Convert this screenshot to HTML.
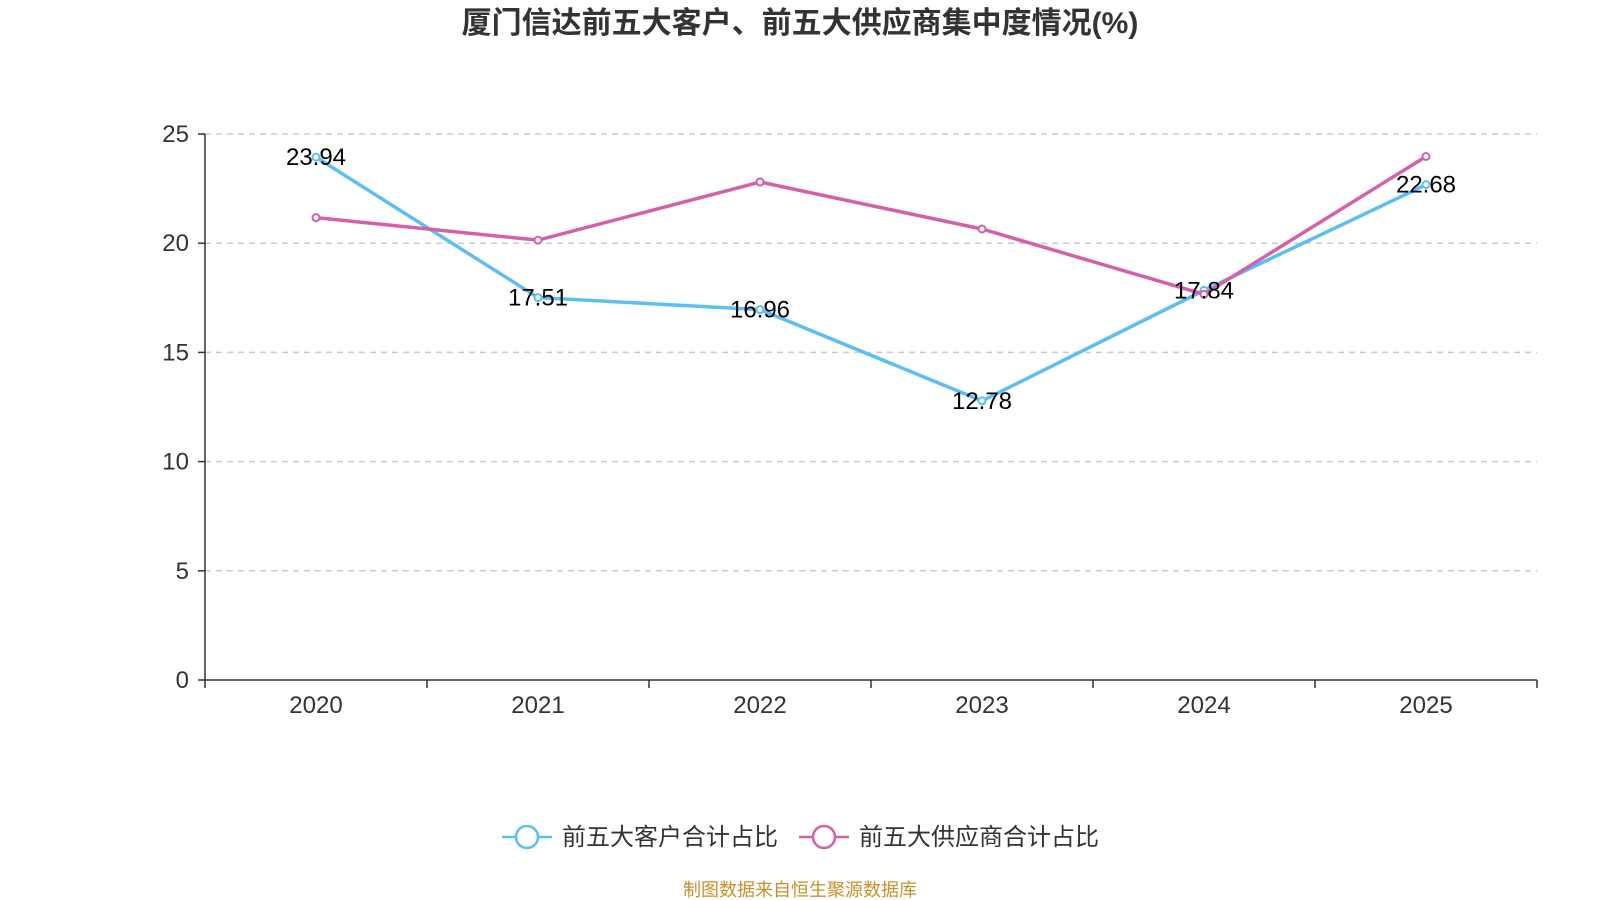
<!DOCTYPE html>
<html><head><meta charset="utf-8"><style>
body{margin:0;background:#fff;}
svg{display:block;font-family:"Liberation Sans","Noto Sans CJK SC",sans-serif;}
</style></head><body>
<svg id="c" width="1600" height="900" xmlns="http://www.w3.org/2000/svg">
<text x="800" y="33" text-anchor="middle" font-size="30" font-weight="bold" fill="#333">厦门信达前五大客户、前五大供应商集中度情况(%)</text>
<g id="grid"></g><g id="axes"></g><g id="series"></g>
<g>
<g>
<line x1="502" y1="837" x2="552" y2="837" stroke="#5bbff5" stroke-width="2.5"/>
<circle cx="527" cy="837" r="11" fill="#fff" stroke="#5bbff5" stroke-width="2.5"/>
<text x="562" y="845" font-size="24" fill="#333">前五大客户合计占比</text></g>
<g>
<line x1="799" y1="837" x2="849" y2="837" stroke="#d660a8" stroke-width="2.5"/>
<circle cx="824" cy="837" r="11" fill="#fff" stroke="#d660a8" stroke-width="2.5"/>
<text x="859" y="845" font-size="24" fill="#333">前五大供应商合计占比</text></g>
</g>
<text x="800" y="896" text-anchor="middle" font-size="18" fill="#c8902a">制图数据来自恒生聚源数据库</text>
</svg>
<script>
const categories=["2020","2021","2022","2023","2024","2025"];
const customers=[23.94,17.51,16.96,12.78,17.84,22.68];
const suppliers=[21.17,20.14,22.8,20.65,17.66,23.97];
const yTicks=[0,5,10,15,20,25];
const NS="http://www.w3.org/2000/svg";
const L=205,R=1537,T=134,B=680,yMax=25;
const bw=(R-L)/categories.length;
const xs=i=>L+bw*(i+0.5);
const ys=v=>B-(v/yMax)*(B-T);
function mk(tag,attrs,parent,txt){const e=document.createElementNS(NS,tag);for(const k in attrs)e.setAttribute(k,attrs[k]);if(txt!==undefined)e.textContent=txt;parent.appendChild(e);return e;}
const grid=document.getElementById('grid'),axes=document.getElementById('axes'),ser=document.getElementById('series');
yTicks.forEach(t=>{
 if(t>0){const g=mk('line',{x1:L,x2:R,y1:ys(t),y2:ys(t),stroke:'#ccc','stroke-width':1.5,'stroke-dasharray':'6,5'},grid);
 
 }
 mk('line',{x1:L-7,x2:L,y1:ys(t),y2:ys(t),stroke:'#333','stroke-width':1.5},axes);
 const lb=mk('text',{x:L-16,y:ys(t)+8,'text-anchor':'end','font-size':24,fill:'#333'},axes,String(t));
 
 
});
const ya=mk('line',{x1:L,x2:L,y1:T,y2:B,stroke:'#333','stroke-width':1.5},axes);


const xa=mk('line',{x1:L,x2:R,y1:B,y2:B,stroke:'#333','stroke-width':1.5},axes);


for(let i=0;i<=categories.length;i++)mk('line',{x1:L+bw*i,x2:L+bw*i,y1:B,y2:B+8,stroke:'#333','stroke-width':1.5},axes);
categories.forEach((c,i)=>{const t=mk('text',{x:xs(i),y:B+33,'text-anchor':'middle','font-size':24,fill:'#333'},axes,c);
 
 });
function line(vals,color,name){
 const p=mk('polyline',{points:vals.map((v,i)=>xs(i)+','+ys(v)).join(' '),fill:'none',stroke:color,'stroke-width':3.5},ser);
 
 
 vals.forEach((v,i)=>{const c=mk('circle',{cx:xs(i),cy:ys(v),r:3.5,fill:'#fff',stroke:color,'stroke-width':2},ser);
  
  });
}
line(customers,'#5bbff5','customers');
line(suppliers,'#d660a8','suppliers');
customers.forEach((v,i)=>{const t=mk('text',{x:xs(i),y:ys(v)+8,'text-anchor':'middle','font-size':24,fill:'#000'},ser,v.toFixed(2));
 
 });
</script>
</body></html>
